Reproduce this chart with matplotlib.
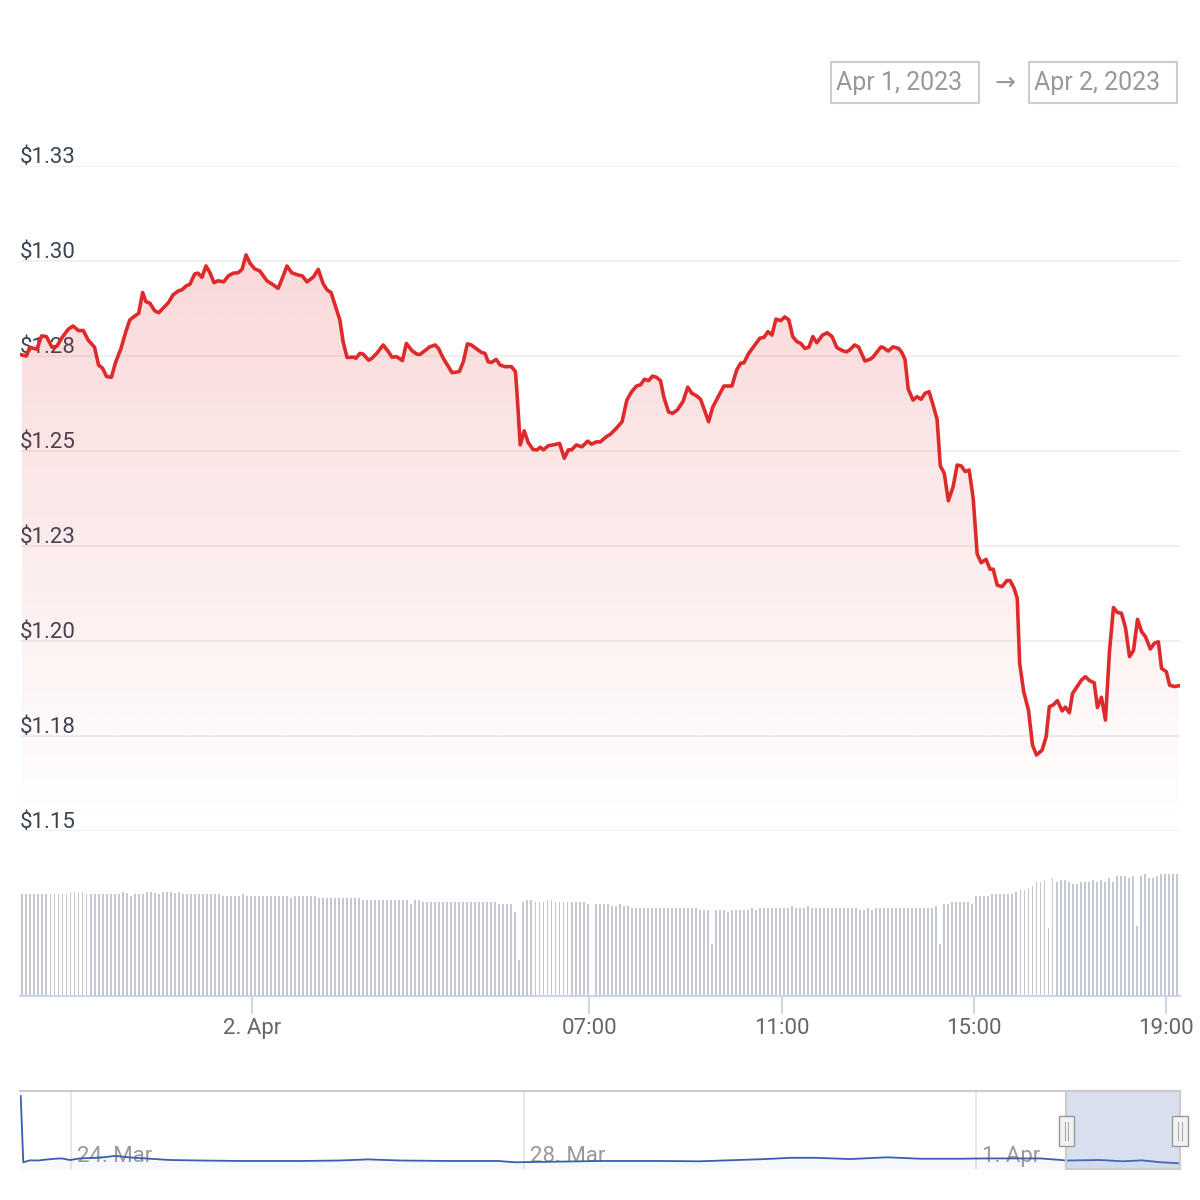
import numpy as np
import pandas as pd
import matplotlib
matplotlib.use('Agg')
import matplotlib.pyplot as plt
import matplotlib.dates as mdates
from matplotlib.patches import Rectangle
from matplotlib.transforms import offset_copy
from datetime import datetime, timedelta

plt.rcParams['font.family'] = ['Roboto', 'DejaVu Sans']

# price series (minutes after 2023-04-01 19:10, USD)
start = datetime(2023, 4, 1, 19, 10)
minutes = [
    2, 8, 12, 21, 27, 33, 40, 46, 52, 60, 66, 73, 79, 85, 93, 98, 103, 108, 114, 119,
    126, 132, 137, 143, 148, 153, 157, 162, 168, 173, 179, 185, 191, 198, 202, 207, 212, 218, 222, 227,
    232, 237, 242, 247, 254, 260, 266, 272, 277, 282, 287, 293, 299, 308, 316, 322, 328, 333, 339, 347,
    352, 358, 366, 372, 378, 383, 388, 393, 399, 403, 408, 416, 419, 424, 428, 435, 439, 445, 453, 459,
    464, 470, 477, 482, 489, 495, 499, 505, 511, 518, 522, 528, 539, 548, 553, 558, 563, 570, 576, 580,
    584, 588, 594, 599, 605, 613, 618, 620, 624, 629, 634, 640, 645, 649, 653, 659, 665, 673, 679, 684,
    688, 694, 701, 708, 713, 719, 724, 731, 737, 744, 751, 757, 763, 769, 774, 779, 784, 789, 794, 799,
    803, 809, 814, 820, 827, 833, 838, 844, 849, 859, 864, 871, 878, 888, 894, 899, 903, 909, 915, 923,
    928, 933, 938, 943, 949, 954, 959, 964, 969, 974, 979, 984, 989, 994, 1001, 1007, 1013, 1019, 1026, 1031,
    1035, 1041, 1046, 1054, 1060, 1064, 1074, 1077, 1083, 1089, 1096, 1100, 1104, 1108, 1114, 1119, 1124, 1129, 1134, 1139,
    1144, 1148, 1153, 1158, 1164, 1169, 1174, 1179, 1184, 1189, 1194, 1199, 1205, 1210, 1214, 1219, 1225, 1231, 1235, 1240,
    1244, 1247, 1252, 1258, 1263, 1268, 1275, 1280, 1284, 1289, 1294, 1300, 1304, 1309, 1313, 1318, 1324, 1329, 1334, 1340,
    1344, 1349, 1354, 1359, 1364, 1369, 1374, 1379, 1384, 1389, 1394, 1399, 1404, 1410, 1415, 1420, 1424, 1430, 1434, 1440,
    1445,
]
price = [
    1.2753, 1.2750, 1.2773, 1.2768, 1.2803, 1.2801, 1.2773, 1.2776, 1.2797, 1.2820,
    1.2829, 1.2817, 1.2817, 1.2792, 1.2773, 1.2726, 1.2718, 1.2696, 1.2694, 1.2732,
    1.2770, 1.2814, 1.2845, 1.2855, 1.2862, 1.2917, 1.2893, 1.2889, 1.2869, 1.2864,
    1.2877, 1.2890, 1.2911, 1.2922, 1.2924, 1.2934, 1.2939, 1.2966, 1.2968, 1.2957,
    1.2987, 1.2969, 1.2943, 1.2948, 1.2945, 1.2961, 1.2968, 1.2969, 1.2978, 1.3016,
    1.2994, 1.2979, 1.2974, 1.2948, 1.2937, 1.2928, 1.2959, 1.2987, 1.2969, 1.2963,
    1.2961, 1.2945, 1.2958, 1.2978, 1.2941, 1.2924, 1.2917, 1.2884, 1.2845, 1.2788,
    1.2746, 1.2747, 1.2744, 1.2757, 1.2755, 1.2739, 1.2744, 1.2757, 1.2779, 1.2763,
    1.2747, 1.2748, 1.2738, 1.2783, 1.2764, 1.2755, 1.2754, 1.2764, 1.2774, 1.2779,
    1.2770, 1.2744, 1.2706, 1.2709, 1.2735, 1.2782, 1.2779, 1.2768, 1.2759, 1.2757,
    1.2735, 1.2733, 1.2741, 1.2726, 1.2722, 1.2722, 1.2709, 1.2652, 1.2516, 1.2553,
    1.2522, 1.2504, 1.2503, 1.2510, 1.2503, 1.2514, 1.2516, 1.2520, 1.2481, 1.2503,
    1.2503, 1.2516, 1.2511, 1.2526, 1.2518, 1.2524, 1.2524, 1.2537, 1.2545,
    1.2560, 1.2577, 1.2634, 1.2656, 1.2671, 1.2674, 1.2689, 1.2685, 1.2697, 1.2694,
    1.2685, 1.2643, 1.2603, 1.2599, 1.2608, 1.2630, 1.2668, 1.2652, 1.2645, 1.2636,
    1.2577, 1.2615, 1.2643, 1.2671, 1.2671, 1.2713, 1.2731, 1.2732, 1.2757, 1.2774,
    1.2797, 1.2799, 1.2814, 1.2805, 1.2847, 1.2843, 1.2853, 1.2845, 1.2801, 1.2788,
    1.2783, 1.2770, 1.2773, 1.2801, 1.2785, 1.2805, 1.2811, 1.2801, 1.2772, 1.2764,
    1.2761, 1.2766, 1.2779, 1.2774, 1.2737, 1.2741, 1.2747, 1.2774, 1.2772, 1.2763,
    1.2774, 1.2770, 1.2759, 1.2741,
    1.2663, 1.2634, 1.2643, 1.2636, 1.2652, 1.2656, 1.2621, 1.2583, 1.2461, 1.2441,
    1.2369, 1.2406, 1.2463, 1.2461, 1.2446, 1.2450, 1.2376, 1.2229, 1.2206, 1.2215,
    1.2189, 1.2189, 1.2147, 1.2143, 1.2159, 1.2159, 1.2139, 1.2112, 1.1941, 1.1867,
    1.1818, 1.1726, 1.1700, 1.1713, 1.1748, 1.1827, 1.1832, 1.1843, 1.1816, 1.1826,
    1.1811, 1.1862, 1.1878, 1.1897, 1.1906, 1.1896, 1.1890, 1.1825, 1.1852, 1.1792,
    1.1972, 1.2088, 1.2075, 1.2073, 1.2035, 1.1959, 1.1975, 1.2057, 1.2025, 1.2011,
    1.1979, 1.1994, 1.1998, 1.1928, 1.1919, 1.1884, 1.1880, 1.1882,
]

# volume, one bar every 5 minutes from 19:13 (millions)
volume = [
    10.2, 10.2, 10.2, 10.2, 10.2, 10.2, 10.2, 10.2, 10.2, 10.2, 10.2, 10.2, 10.4, 10.4, 10.3, 10.4, 10.2, 10.2, 10.2, 10.2,
    10.2, 10.2, 10.2, 10.2, 10.2, 10.4, 10.3, 10.0, 10.2, 10.2, 10.2, 10.4, 10.4, 10.3, 10.2, 10.4, 10.4, 10.4, 10.3, 10.4,
    10.2, 10.2, 10.2, 10.2, 10.2, 10.2, 10.2, 10.2, 10.2, 10.2, 10.0, 10.0, 10.0, 10.0, 10.0, 10.2, 10.0, 10.0, 10.0, 10.0,
    10.0, 10.0, 10.0, 10.0, 10.0, 10.0, 10.0, 9.8, 10.0, 10.0, 10.0, 10.0, 10.0, 10.0, 9.8, 9.8, 9.8, 9.8, 9.8, 9.8,
    9.8, 9.8, 9.8, 9.8, 9.8, 9.6, 9.6, 9.6, 9.6, 9.6, 9.6, 9.6, 9.6, 9.6, 9.6, 9.6, 9.6, 9.2, 9.6, 9.6,
    9.4, 9.4, 9.4, 9.4, 9.4, 9.4, 9.4, 9.4, 9.4, 9.4, 9.4, 9.4, 9.4, 9.4, 9.4, 9.4, 9.4, 9.4, 9.4, 9.2,
    9.2, 9.2, 9.2, 8.4, 3.6, 9.4, 9.6, 9.6, 9.4, 9.4, 9.4, 9.6, 9.6, 9.4, 9.4, 9.4, 9.4, 9.4, 9.4, 9.4,
    9.4, 9.2, 0.0, 9.2, 9.2, 9.2, 9.2, 9.0, 9.0, 9.2, 9.0, 9.0, 8.8, 8.8, 8.8, 8.8, 8.8, 8.8, 8.8, 8.8,
    8.8, 8.8, 8.8, 8.8, 8.8, 8.8, 8.8, 8.8, 8.8, 8.6, 8.6, 8.6, 5.2, 8.6, 8.6, 8.6, 8.4, 8.6, 8.6, 8.6,
    8.6, 8.6, 8.8, 8.6, 8.8, 8.8, 8.8, 8.8, 8.8, 8.8, 8.8, 8.8, 9.0, 8.8, 8.8, 8.8, 9.0, 8.8, 8.8, 8.8,
    8.8, 8.8, 8.8, 8.8, 8.8, 8.8, 8.8, 8.8, 8.8, 8.6, 8.6, 8.8, 8.6, 8.8, 8.8, 8.8, 8.8, 8.8, 8.8, 8.8,
    8.8, 8.8, 8.8, 8.8, 8.8, 8.8, 8.8, 8.8, 9.0, 5.2, 9.2, 9.2, 9.4, 9.4, 9.4, 9.4, 9.4, 9.2, 10.0, 10.0,
    10.0, 10.0, 10.2, 10.2, 10.2, 10.2, 10.2, 10.2, 10.4, 10.6, 10.6, 10.8, 11.0, 11.4, 11.4, 11.6, 6.8, 11.8, 11.4, 11.6,
    11.6, 11.4, 11.2, 11.2, 11.4, 11.4, 11.4, 11.6, 11.4, 11.6, 11.4, 11.8, 11.4, 12.0, 12.0, 12.0, 11.8, 12.0, 7.0, 12.0,
    12.2, 11.8, 11.8, 12.0, 12.2, 12.2, 12.2, 12.2, 12.2,
]

# navigator: hours after 2023-03-23 13:10, USD
nav_start = datetime(2023, 3, 23, 13, 10)
nav_hours = [0.15, 0.7, 2.1, 3.8, 5.3, 7.4, 8.9, 10.6, 12.7, 15.9,
             18.0, 20.2, 23.3, 27.6, 31.8, 38.2, 46.7, 59.4, 67.9, 73.8,
             80.6, 91.2, 101.4, 105.0, 114.6, 123.1, 135.8, 144.3, 158.1, 163.6,
             168.7, 176.1, 184.0, 191.0, 199.5, 204.4, 210.1, 216.5, 222.2, 229.2,
             234.0, 238.0, 242.0, 245.7]
nav_price = [3.29, 1.22, 1.28, 1.275, 1.30, 1.33, 1.34, 1.29, 1.34, 1.36,
             1.38, 1.42, 1.37, 1.33, 1.29, 1.275, 1.26, 1.26, 1.275, 1.31,
             1.275, 1.26, 1.26, 1.22, 1.24, 1.26, 1.26, 1.25, 1.32, 1.36,
             1.36, 1.32, 1.375, 1.33, 1.33, 1.34, 1.34, 1.34, 1.275, 1.29,
             1.25, 1.28, 1.22, 1.19]

y_ticks = [1.15, 1.175, 1.20, 1.225, 1.25, 1.275, 1.30, 1.325]
y_labels = ['$1.15', '$1.18', '$1.20', '$1.23', '$1.25', '$1.28', '$1.30', '$1.33']
x_ticks = [datetime(2023, 4, 2, h) for h in (0, 7, 11, 15, 19)]
x_labels = ['2. Apr', '07:00', '11:00', '15:00', '19:00']
nav_ticks = [datetime(2023, 3, 24), datetime(2023, 3, 28), datetime(2023, 4, 1)]
nav_labels = ['24. Mar', '28. Mar', '1. Apr']

times = [start + timedelta(minutes=m) for m in minutes]
vol_times = pd.date_range(start + timedelta(minutes=3), periods=len(volume), freq='5min').to_pydatetime()
nav_times = [nav_start + timedelta(hours=h) for h in nav_hours]
x_min, x_max = start, start + timedelta(minutes=1447)

W = 1200.0
fig = plt.figure(figsize=(12, 12), dpi=100)

def box(left, top, right, bottom):
    return [left / W, 1 - bottom / W, (right - left) / W, (bottom - top) / W]

ax = fig.add_axes(box(20, 166, 1180, 831))
axv = fig.add_axes(box(20, 860, 1180, 996))
axn = fig.add_axes(box(20, 1091, 1180, 1169.3))
for a in (ax, axv, axn):
    a.set_facecolor('none')
    for s in a.spines.values():
        s.set_visible(False)

# ---- price pane
red = '#df2a2b'
ax.set_xticks([])
ax.set_yticks([])
for v in y_ticks:
    ax.axhline(v, color='#ececec', lw=1.1, zorder=0)
lab_tr = offset_copy(ax.get_yaxis_transform(), fig=fig, y=3, units='dots')
for v, lab in zip(y_ticks, y_labels):
    ax.text(0, v, lab, transform=lab_tr, ha='left', va='baseline',
            fontsize=16, color='#3b4453', zorder=1)

poly = ax.fill_between(times, price, 1.15, facecolor='none', edgecolor='none')
xn = mdates.date2num(times)
grad = np.zeros((256, 1, 4))
grad[:, 0, 0] = 224 / 255
grad[:, 0, 1] = 40 / 255
grad[:, 0, 2] = 40 / 255
grad[:, 0, 3] = np.linspace(0.0, 0.18, 256)
img = ax.imshow(grad, extent=[xn[0], xn[-1], 1.15, max(price)], origin='lower',
                aspect='auto', zorder=1.5, interpolation='bilinear')
img.set_clip_path(poly.get_paths()[0], transform=ax.transData)
ax.set_xlim(x_min, x_max)
ax.set_ylim(1.15, 1.325)
ax.plot(times, price, color=red, lw=2.6, solid_joinstyle='round', zorder=3)

# ---- volume pane
axv.bar(vol_times, volume, width=2.4 / 1440, color='#c3c8d3', align='center')
axv.set_xlim(x_min, x_max)
axv.set_ylim(0, 13.6)
axv.set_yticks([])
axv.spines['bottom'].set_visible(True)
axv.spines['bottom'].set_color('#ccd6eb')
axv.spines['bottom'].set_linewidth(1.5)
axv.set_xticks(x_ticks)
axv.set_xticklabels(x_labels)
axv.tick_params(axis='x', length=13, width=1.5, color='#ccd6eb', pad=3,
                labelsize=16, labelcolor='#666666')

# ---- navigator
nav_lo, nav_hi = 1.0, 3.447
axn.fill_between(nav_times, nav_price, nav_lo, color=(0.4, 0.52, 0.76, 0.05), lw=0)
axn.plot(nav_times, nav_price, color='#3a5fae', lw=1.3)
axn.set_xlim(nav_start, x_max)
axn.set_ylim(nav_lo, nav_hi)
axn.set_xticks([])
axn.set_yticks([])
axn.spines['top'].set_visible(True)
axn.spines['top'].set_color('#cccccc')
axn.spines['top'].set_linewidth(1.5)
nav_tr = offset_copy(axn.get_xaxis_transform(), fig=fig, x=6, units='dots')
for d, lab in zip(nav_ticks, nav_labels):
    axn.axvline(d, color='#e4e4e4', lw=1.2, zorder=0)
    axn.text(d, 0.09, lab, transform=nav_tr, ha='left', va='baseline',
             fontsize=16, color='#999999', zorder=1)

bt = axn.get_xaxis_transform()
s0, s1 = mdates.date2num(x_min), mdates.date2num(x_max)
axn.add_patch(Rectangle((s0, 0), s1 - s0, 1, transform=bt, facecolor=(0.4, 0.52, 0.76, 0.25),
                        edgecolor='#cccccc', lw=1.5, zorder=4, clip_on=False))
hw = 15 / 113.1
for e in (s0, s1):
    axn.add_patch(Rectangle((e - hw / 2, 0.30), hw, 0.38, transform=bt, facecolor='#f2f2f2',
                            edgecolor='#999999', lw=1, zorder=6, clip_on=False))
    for dx in (-1.6 / 113.1, 1.6 / 113.1):
        axn.plot([e + dx, e + dx], [0.38, 0.60], transform=bt, color='#aaaaaa',
                 lw=0.8, zorder=7, clip_on=False)

# ---- date range inputs
for left, txt in ((831, 'Apr 1, 2023'), (1029, 'Apr 2, 2023')):
    fig.add_artist(Rectangle((left / W, 1 - 103 / W), 148 / W, 41 / W, transform=fig.transFigure,
                             fill=False, edgecolor='#cccccc', lw=1.5))
    fig.text((left + 5) / W, 1 - 83 / W, txt, ha='left', va='center', fontsize=18, color='#999999')
fig.text(1005 / W, 1 - 83 / W, '→', ha='center', va='center', fontsize=18, color='#999999')

fig.savefig('out.png', dpi=100)
